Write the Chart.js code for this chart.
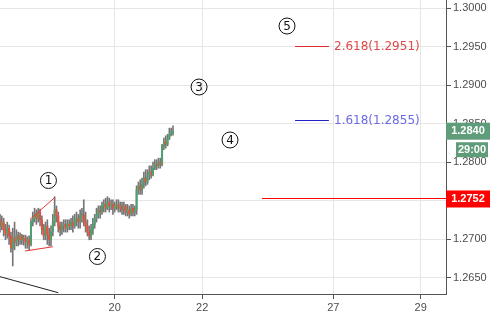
<!DOCTYPE html>
<html>
<head>
<meta charset="utf-8">
<script src="https://cdn.jsdelivr.net/npm/chart.js@4/dist/chart.umd.min.js"></script>
<style>
  html, body { margin: 0; padding: 0; background: #fff; }
</style>
</head>
<body>
<canvas id="chart" width="490" height="317"></canvas>
<script>
// hourly candles
const opens = [
  1.2725,1.2717,1.2722,1.2712,1.2706,1.2714,1.2704,1.2688,1.2701,1.2696,
  1.2704,1.2699,1.2704,1.2699,1.2701,1.2696,1.2699,1.2693,1.2722,1.2727,
  1.2732,1.2727,1.2735,1.2725,1.2712,1.2704,1.2717,1.2706,1.2699,1.2709,
  1.2722,1.2738,1.2730,1.2717,1.2712,1.2717,1.2719,1.2714,1.2719,1.2717,
  1.2722,1.2717,1.2725,1.2727,1.2722,1.2730,1.2732,1.2722,1.2717,1.2709,
  1.2704,1.2712,1.2719,1.2727,1.2732,1.2738,1.2735,1.2743,1.2745,1.2740,
  1.2748,1.2743,1.2745,1.2740,1.2743,1.2745,1.2740,1.2743,1.2738,1.2743,
  1.2735,1.2738,1.2732,1.2740,1.2735,1.2738,1.2764,1.2769,1.2764,1.2771,
  1.2779,1.2774,1.2782,1.2787,1.2784,1.2792,1.2797,1.2795,1.2800,1.2797,
  1.2821,1.2826,1.2823,1.2831,1.2836,1.2838
];
const highs = [
  1.2732,1.2730,1.2727,1.2719,1.2722,1.2718,1.2709,1.2714,1.2722,1.2712,
  1.2709,1.2708,1.2706,1.2705,1.2705,1.2703,1.2704,1.2725,1.2735,1.2740,
  1.2738,1.2740,1.2739,1.2730,1.2719,1.2722,1.2725,1.2714,1.2717,1.2732,
  1.2755,1.2743,1.2735,1.2722,1.2722,1.2725,1.2725,1.2725,1.2725,1.2727,
  1.2730,1.2732,1.2735,1.2732,1.2738,1.2740,1.2751,1.2735,1.2725,1.2717,
  1.2719,1.2727,1.2732,1.2740,1.2743,1.2743,1.2748,1.2751,1.2753,1.2755,
  1.2753,1.2751,1.2751,1.2748,1.2751,1.2751,1.2748,1.2748,1.2748,1.2745,
  1.2745,1.2743,1.2745,1.2745,1.2743,1.2769,1.2774,1.2777,1.2779,1.2787,
  1.2790,1.2790,1.2795,1.2795,1.2800,1.2803,1.2803,1.2805,1.2805,1.2823,
  1.2831,1.2834,1.2836,1.2844,1.2844,1.2847
];
const lows = [
  1.2709,1.2712,1.2704,1.2699,1.2701,1.2693,1.2683,1.2665,1.2686,1.2691,
  1.2691,1.2693,1.2693,1.2692,1.2688,1.2688,1.2686,1.2691,1.2717,1.2722,
  1.2719,1.2722,1.2717,1.2706,1.2699,1.2699,1.2693,1.2691,1.2691,1.2704,
  1.2717,1.2722,1.2709,1.2704,1.2706,1.2709,1.2709,1.2709,1.2712,1.2712,
  1.2709,1.2714,1.2717,1.2714,1.2714,1.2722,1.2717,1.2709,1.2704,1.2699,
  1.2699,1.2706,1.2714,1.2722,1.2727,1.2727,1.2732,1.2735,1.2735,1.2738,
  1.2735,1.2738,1.2732,1.2735,1.2738,1.2735,1.2735,1.2732,1.2732,1.2730,
  1.2730,1.2727,1.2730,1.2730,1.2730,1.2732,1.2758,1.2758,1.2758,1.2766,
  1.2769,1.2771,1.2777,1.2779,1.2782,1.2790,1.2790,1.2792,1.2792,1.2795,
  1.2816,1.2818,1.2821,1.2829,1.2834,1.2835
];
const closes = [
  1.2717,1.2722,1.2712,1.2706,1.2714,1.2704,1.2688,1.2701,1.2696,1.2704,
  1.2699,1.2704,1.2699,1.2701,1.2696,1.2699,1.2693,1.2722,1.2727,1.2732,
  1.2727,1.2735,1.2725,1.2712,1.2704,1.2717,1.2706,1.2699,1.2709,1.2722,
  1.2738,1.2730,1.2717,1.2712,1.2717,1.2719,1.2714,1.2719,1.2717,1.2722,
  1.2717,1.2725,1.2727,1.2722,1.2730,1.2732,1.2722,1.2717,1.2709,1.2704,
  1.2712,1.2719,1.2727,1.2732,1.2738,1.2735,1.2743,1.2745,1.2740,1.2748,
  1.2743,1.2745,1.2740,1.2743,1.2745,1.2740,1.2743,1.2738,1.2743,1.2735,
  1.2738,1.2732,1.2740,1.2735,1.2738,1.2764,1.2769,1.2764,1.2771,1.2779,
  1.2774,1.2782,1.2787,1.2784,1.2792,1.2797,1.2795,1.2800,1.2797,1.2821,
  1.2826,1.2823,1.2831,1.2836,1.2840,1.2840
];

const priceTicks = [1.2650, 1.2700, 1.2750, 1.2800, 1.2850, 1.2900, 1.2950, 1.3000];
const dayTicks   = [63, 111, 183, 231];   // hour index where each day starts
const dayLabels  = ['20', '22', '27', '29'];

const lastPrice  = 1.2840;
const countdown  = '29:00';
const alertPrice = 1.2752;

const fibRatios = ['2.618', '1.618'];
const fibPrices = [1.2951, 1.2855];

const waveLabels = ['1', '2', '3', '4', '5'];
const waveHours  = [26.6, 53.5, 109.3, 126.3, 157.6];
const wavePrices = [1.27760, 1.26773, 1.28974, 1.28286, 1.29766];

const UP = '#4fa070', DOWN = '#e8503a', WICK = '#767676';

const bodyData = opens.map((o, i) => ({ x: i, y: [o, closes[i]] }));
const wickData = highs.map((h, i) => ({ x: i, y: [lows[i], h] }));
const bodyColors = opens.map((o, i) => closes[i] >= o ? UP : DOWN);

function line(ctx, x1, y1, x2, y2, color) {
  ctx.beginPath();
  ctx.strokeStyle = color;
  ctx.lineWidth = 1;
  ctx.moveTo(x1, y1);
  ctx.lineTo(x2, y2);
  ctx.stroke();
}

const overlays = {
  id: 'overlays',
  afterDatasetsDraw(chart) {
    const { ctx, chartArea: a, scales: { x, y } } = chart;
    ctx.save();
    ctx.beginPath();
    ctx.rect(a.left, a.top, a.right - a.left, a.bottom - a.top);
    ctx.clip();

    // wedge lines and trend line
    line(ctx, x.getPixelForValue(16.5), y.getPixelForValue(1.27256),
              x.getPixelForValue(30.2), y.getPixelForValue(1.27542), '#f03535');
    line(ctx, x.getPixelForValue(13.7), y.getPixelForValue(1.26844),
              x.getPixelForValue(29.1), y.getPixelForValue(1.26900), '#f03535');
    line(ctx, x.getPixelForValue(-2), y.getPixelForValue(1.26524),
              x.getPixelForValue(32), y.getPixelForValue(1.26303), '#222');

    // fib levels
    ctx.font = '12px "DejaVu Sans", sans-serif';
    ctx.textBaseline = 'middle';
    ctx.textAlign = 'left';
    const fibLine = ['#e02828', '#2424c8'];
    const fibText = ['#e04848', '#6a6ae6'];
    fibPrices.forEach((p, i) => {
      const fy = Math.round(y.getPixelForValue(p));
      ctx.fillStyle = fibLine[i];
      ctx.fillRect(x.getPixelForValue(162), fy, x.getPixelForValue(180.6) - x.getPixelForValue(162), 1);
      ctx.fillStyle = fibText[i];
      ctx.fillText(fibRatios[i] + '(' + p.toFixed(4) + ')', x.getPixelForValue(183.4), fy + 0.5);
    });

    // wave count circles
    ctx.textAlign = 'center';
    waveLabels.forEach((t, i) => {
      const cx = x.getPixelForValue(waveHours[i]);
      const cy = y.getPixelForValue(wavePrices[i]);
      ctx.beginPath();
      ctx.arc(cx, cy, 8, 0, Math.PI * 2);
      ctx.strokeStyle = '#111';
      ctx.lineWidth = 1;
      ctx.stroke();
      ctx.fillStyle = '#111';
      ctx.font = '12px "DejaVu Sans", sans-serif';
      ctx.fillText(t, cx, cy + 0.5);
    });
    ctx.restore();

    // alert line and price tags on the axis
    ctx.save();
    const ry = y.getPixelForValue(alertPrice);
    const ax = Math.round(x.getPixelForValue(143.8));
    ctx.fillStyle = 'rgb(255, 0, 0)';
    ctx.fillRect(ax, Math.round(ry) - 1, a.right - ax, 1);

    ctx.font = 'bold 11px "Liberation Sans", Arial, sans-serif';
    ctx.textAlign = 'center';
    ctx.textBaseline = 'middle';
    const ly = y.getPixelForValue(lastPrice);
    ctx.fillStyle = '#5f9c7a';
    ctx.fillRect(a.right, ly - 8.5, 44, 17);
    ctx.fillRect(a.right + 10, ly + 11, 32, 15);
    ctx.fillStyle = '#fff';
    ctx.fillText(lastPrice.toFixed(4), a.right + 22, ly);
    ctx.fillText(countdown, a.right + 26, ly + 18.5);
    ctx.fillStyle = '#ff0000';
    ctx.fillRect(a.right, ry - 8.5, 44, 17);
    ctx.fillStyle = '#fff';
    ctx.fillText(alertPrice.toFixed(4), a.right + 22, ry);
    ctx.restore();
  }
};

Chart.defaults.font.family = '"Liberation Sans", Arial, sans-serif';
Chart.defaults.font.size = 11;
Chart.defaults.color = '#4d4d4d';

function noPad(s) {
  s.paddingTop = 0;
  s.paddingBottom = 0;
  s.paddingLeft = 0;
  s.paddingRight = 0;
}

new Chart(document.getElementById('chart'), {
  type: 'bar',
  data: {
    datasets: [
      { data: wickData, backgroundColor: WICK, barThickness: 1, grouped: false, order: 2 },
      { data: bodyData, backgroundColor: bodyColors, barThickness: 1.4, grouped: false, order: 1 }
    ]
  },
  options: {
    responsive: false,
    animation: false,
    layout: { padding: 0 },
    plugins: { legend: { display: false }, tooltip: { enabled: false } },
    scales: {
      x: {
        type: 'linear',
        min: 0,
        max: 244.9,
        offset: false,
        grid: { color: '#e6e6e6', tickColor: '#555', tickLength: 5, offset: false },
        border: { color: '#555' },
        ticks: { padding: 2, callback: (v, i) => dayLabels[i] },
        afterBuildTicks: s => { s.ticks = dayTicks.map(v => ({ value: v })); },
        afterFit: s => { s.height = 23; noPad(s); }
      },
      y: {
        position: 'right',
        min: 1.26286,
        max: 1.30104,
        grid: { color: '#e6e6e6', tickColor: '#555', tickLength: 5 },
        border: { color: '#555' },
        ticks: { padding: 2, callback: v => v.toFixed(4) },
        afterBuildTicks: s => { s.ticks = priceTicks.map(v => ({ value: v })); },
        afterFit: s => { s.width = 44; noPad(s); }
      }
    }
  },
  plugins: [overlays]
});
</script>
</body>
</html>
